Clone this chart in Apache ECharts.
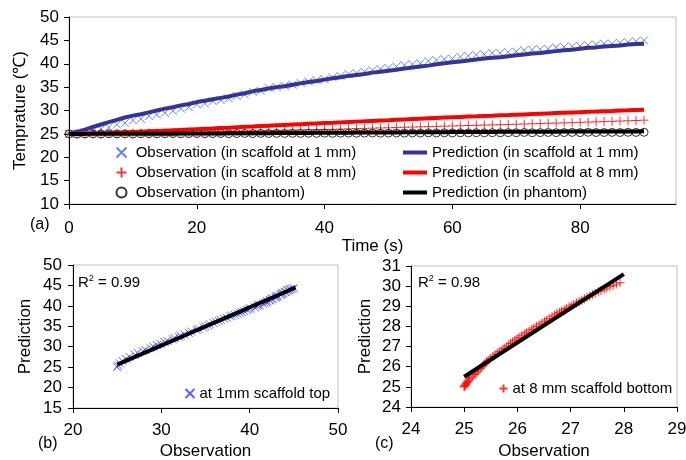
<!DOCTYPE html>
<html><head><meta charset="utf-8">
<script src="https://cdn.jsdelivr.net/npm/echarts@6/dist/echarts.min.js"></script>
<style>html,body{margin:0;padding:0;background:#fff}#c{width:686px;height:460px}</style>
</head><body><div id="c"></div>
<script>
// time stamps (s)
const times = [0,1.25,2.5,3.75,5,6.25,7.5,8.75,10,11.25,
12.5,13.75,15,16.25,17.5,18.75,20,21.25,22.5,23.75,
25,26.25,27.5,28.75,30,31.25,32.5,33.75,35,36.25,
37.5,38.75,40,41.25,42.5,43.75,45,46.25,47.5,48.75,
50,51.25,52.5,53.75,55,56.25,57.5,58.75,60,61.25,
62.5,63.75,65,66.25,67.5,68.75,70,71.25,72.5,73.75,
75,76.25,77.5,78.75,80,81.25,82.5,83.75,85,86.25,
87.5,88.75,90];
// observation / prediction in scaffold at 1 mm
const obs1mm = [25.0,25.1,25.3,25.6,26.0,26.4,27.0,27.3,27.9,28.2,
28.8,29.1,29.5,29.9,30.4,30.7,31.3,31.5,32.0,32.2,
32.6,33.1,33.4,34.0,34.2,34.8,35.0,35.3,35.5,35.9,
36.2,36.5,36.7,37.1,37.4,37.8,38.0,38.3,38.6,38.9,
39.1,39.4,39.7,39.9,40.1,40.6,40.8,41.0,41.1,41.5,
41.7,41.9,42.0,42.3,42.3,42.5,42.6,42.9,43.0,43.1,
43.2,43.5,43.6,43.7,43.8,44.0,44.1,44.3,44.3,44.5,
44.6,44.8,45.0];
const pred1mm = [25.0,25.4,25.9,26.5,27.0,27.5,28.0,28.5,28.9,29.2,
29.6,30.0,30.4,30.7,31.1,31.4,31.8,32.1,32.4,32.7,
33.0,33.4,33.7,34.1,34.4,34.7,35.0,35.2,35.5,35.8,
36.1,36.3,36.6,36.9,37.1,37.4,37.6,37.8,38.1,38.3,
38.5,38.7,39.0,39.2,39.4,39.6,39.9,40.1,40.3,40.5,
40.7,40.9,41.1,41.3,41.4,41.6,41.8,42.0,42.2,42.3,
42.5,42.7,42.9,43.0,43.2,43.4,43.5,43.7,43.8,43.9,
44.1,44.2,44.3];
// observation / prediction in scaffold at 8 mm
const obs8mm = [25.00,25.00,25.02,25.03,25.04,25.05,25.07,25.08,25.10,25.13,
25.16,25.19,25.22,25.24,25.27,25.30,25.33,25.36,25.39,25.42,
25.45,25.49,25.54,25.58,25.62,25.66,25.71,25.75,25.79,25.83,
25.87,25.91,25.95,25.99,26.03,26.08,26.13,26.17,26.22,26.27,
26.31,26.36,26.41,26.46,26.51,26.55,26.60,26.65,26.70,26.74,
26.79,26.83,26.88,26.92,26.97,27.01,27.06,27.11,27.16,27.21,
27.26,27.31,27.36,27.41,27.46,27.52,27.57,27.63,27.68,27.74,
27.80,27.86,27.93];
const pred8mm = [25.00,25.03,25.07,25.11,25.16,25.21,25.27,25.33,25.40,25.47,
25.54,25.61,25.68,25.75,25.83,25.91,25.99,26.07,26.15,26.24,
26.32,26.41,26.50,26.58,26.67,26.75,26.83,26.91,26.99,27.07,
27.15,27.23,27.31,27.38,27.46,27.54,27.62,27.69,27.77,27.85,
27.92,28.00,28.08,28.16,28.24,28.32,28.40,28.48,28.56,28.63,
28.70,28.76,28.83,28.89,28.96,29.02,29.09,29.16,29.23,29.30,
29.37,29.44,29.51,29.58,29.65,29.72,29.78,29.85,29.91,29.98,
30.04,30.11,30.17];
// observation / prediction in phantom
const obsPhantom = [25.00,24.95,24.98,25.00,24.96,25.02,24.98,25.00,24.97,25.01,
25.03,24.99,25.02,25.05,25.01,25.04,25.06,25.03,25.05,25.08,
25.04,25.07,25.09,25.06,25.10,25.08,25.11,25.09,25.12,25.10,
25.13,25.11,25.14,25.12,25.15,25.17,25.14,25.16,25.18,25.15,
25.17,25.19,25.16,25.20,25.18,25.21,25.19,25.22,25.20,25.23,
25.21,25.24,25.22,25.25,25.23,25.26,25.24,25.30,25.25,25.27,
25.30,25.26,25.28,25.31,25.27,25.33,25.29,25.30,25.32,25.30,
25.33,25.31,25.34];
const predPhantom = [25.00,25.00,25.00,25.01,25.01,25.01,25.02,25.02,25.03,25.03,
25.04,25.04,25.05,25.05,25.06,25.06,25.07,25.08,25.09,25.10,
25.11,25.12,25.13,25.14,25.15,25.16,25.17,25.18,25.19,25.20,
25.21,25.22,25.23,25.24,25.25,25.26,25.27,25.28,25.29,25.30,
25.31,25.32,25.33,25.33,25.34,25.35,25.36,25.37,25.38,25.39,
25.40,25.41,25.41,25.42,25.43,25.44,25.45,25.45,25.46,25.47,
25.47,25.48,25.49,25.49,25.50,25.50,25.51,25.51,25.52,25.52,
25.53,25.53,25.54];
// regression lines (observation, prediction) end points
const fit1mmObs = [25.0, 45.2];
const fit1mmPred = [25.6, 44.5];
const fit8mmObs = [25.0, 28.0];
const fit8mmPred = [25.5, 30.6];
// tick labels
const timeTicks = [0,20,40,60,80];
const r2Labels = ['0.99','0.98'];
const seriesNames = ['Observation (in scaffold at 1 mm)','Prediction (in scaffold at 1 mm)',
 'Observation (in scaffold at 8 mm)','Prediction (in scaffold at 8 mm)',
 'Observation (in phantom)','Prediction (in phantom)'];
const scatterNames = ['at 1mm scaffold top','at 8 mm scaffold bottom'];

const FONT = '"Liberation Sans", Arial, sans-serif';
const XSYM = 'path://M0 0L10 10M10 0L0 10';
const PSYM = 'path://M5 0L5 10M0 5L10 5';
const FS = 17;
const pair = (a,b) => a.map((v,i)=>[v,b[i]]);

const chart = echarts.init(document.getElementById('c'), null, {renderer:'canvas'});

function axisCommon(extra){
  return Object.assign({
    type:'value', splitLine:{show:false},
    axisLine:{show:true, onZero:false, lineStyle:{color:'#000', width:1}},
    axisTick:{show:true, inside:false, length:5, lineStyle:{color:'#000'}},
    axisLabel:{color:'#000', fontSize:FS, fontFamily:FONT},
    nameTextStyle:{color:'#000', fontSize:FS, fontFamily:FONT},
    nameLocation:'middle'
  }, extra);
}
const lbl = (m) => ({color:'#000', fontSize:FS, fontFamily:FONT, margin:m});

const option = {
  animation:false,
  textStyle:{fontFamily:FONT},
  grid:[
    {left:69, right:10, top:17, bottom:256, show:true, borderColor:'#bdbdbd', borderWidth:1, containLabel:false, outerBoundsMode:'none'},
    {left:73, right:348, top:265, bottom:52, show:true, borderColor:'#bdbdbd', borderWidth:1, containLabel:false, outerBoundsMode:'none'},
    {left:411, right:9, top:266, bottom:53, show:true, borderColor:'#bdbdbd', borderWidth:1, containLabel:false, outerBoundsMode:'none'}
  ],
  xAxis:[
    axisCommon({gridIndex:0, min:0, max:95, interval:20, name:'Time (s)', nameGap:19,
      axisTick:{show:true, length:5, lineStyle:{color:'#000'}, customValues:timeTicks},
      axisLabel:Object.assign(lbl(16), {customValues:timeTicks})}),
    axisCommon({gridIndex:1, min:20, max:50, interval:10, name:'Observation', nameGap:35, axisLabel:lbl(14)}),
    axisCommon({gridIndex:2, min:24, max:29, interval:1, name:'Observation', nameGap:36, axisLabel:lbl(14)})
  ],
  yAxis:[
    axisCommon({gridIndex:0, min:10, max:50, interval:5, name:'Temprature (℃)', nameGap:39, axisLabel:lbl(10)}),
    axisCommon({gridIndex:1, min:15, max:50, interval:5, name:'Prediction', nameGap:39, axisLabel:lbl(11)}),
    axisCommon({gridIndex:2, min:24, max:31, interval:1, name:'Prediction', nameGap:37, axisLabel:lbl(10)})
  ],
  legend:[
    {data:[seriesNames[0],seriesNames[2],seriesNames[4]], orient:'vertical', left:109, top:140,
     itemWidth:10, itemHeight:10, itemGap:5, formatter:n=>' '+n,
     textStyle:{fontSize:15, color:'#000', fontFamily:FONT, lineHeight:15}},
    {data:[seriesNames[1],seriesNames[3],seriesNames[5]], orient:'vertical', left:398, top:140,
     icon:'rect', itemWidth:24, itemHeight:4, itemGap:5,
     textStyle:{fontSize:15, color:'#000', fontFamily:FONT, lineHeight:15}},
    {data:[scatterNames[0]], left:178, top:381, itemWidth:9, itemHeight:9,
     textStyle:{fontSize:15, color:'#000', fontFamily:FONT}},
    {data:[scatterNames[1]], left:492, top:376, itemWidth:8, itemHeight:8,
     textStyle:{fontSize:15, color:'#000', fontFamily:FONT}}
  ],
  series:[
    {name:seriesNames[0], type:'scatter', xAxisIndex:0, yAxisIndex:0, data:pair(times,obs1mm),
     symbol:XSYM, symbolSize:8, itemStyle:{color:'none', borderColor:'#3d63f0', borderWidth:1}},
    {name:seriesNames[2], type:'scatter', xAxisIndex:0, yAxisIndex:0, data:pair(times,obs8mm),
     symbol:PSYM, symbolSize:9, itemStyle:{color:'none', borderColor:'#ff0000', borderWidth:1}},
    {name:seriesNames[4], type:'scatter', xAxisIndex:0, yAxisIndex:0, data:pair(times,obsPhantom),
     symbol:'circle', symbolSize:8, itemStyle:{color:'none', borderColor:'#000', borderWidth:1}},
    {name:seriesNames[1], type:'line', xAxisIndex:0, yAxisIndex:0, data:pair(times,pred1mm),
     showSymbol:false, symbol:'none', lineStyle:{color:'#333399', width:4}, itemStyle:{color:'#333399'}},
    {name:seriesNames[3], type:'line', xAxisIndex:0, yAxisIndex:0, data:pair(times,pred8mm),
     showSymbol:false, symbol:'none', lineStyle:{color:'#ff0000', width:4}, itemStyle:{color:'#ff0000'}},
    {name:seriesNames[5], type:'line', xAxisIndex:0, yAxisIndex:0, data:pair(times,predPhantom),
     showSymbol:false, symbol:'none', lineStyle:{color:'#000', width:4}, itemStyle:{color:'#000'}},
    {name:scatterNames[0], type:'scatter', xAxisIndex:1, yAxisIndex:1, data:pair(obs1mm,pred1mm),
     symbol:XSYM, symbolSize:8, itemStyle:{color:'none', borderColor:'#2b3cff', borderWidth:1}},
    {name:'fit1', type:'line', xAxisIndex:1, yAxisIndex:1, data:pair(fit1mmObs,fit1mmPred),
     showSymbol:false, symbol:'none', lineStyle:{color:'#000', width:4}},
    {name:scatterNames[1], type:'scatter', xAxisIndex:2, yAxisIndex:2, data:pair(obs8mm,pred8mm),
     symbol:PSYM, symbolSize:9, itemStyle:{color:'none', borderColor:'#ff0000', borderWidth:1}},
    {name:'fit8', type:'line', xAxisIndex:2, yAxisIndex:2, data:pair(fit8mmObs,fit8mmPred),
     showSymbol:false, symbol:'none', lineStyle:{color:'#000', width:4}}
  ],
  graphic:[
    {type:'text', left:30, top:217, style:{text:'(a)', fontSize:16, fontFamily:FONT, fill:'#000'}},
    {type:'text', left:38, top:436, style:{text:'(b)', fontSize:16, fontFamily:FONT, fill:'#000'}},
    {type:'text', left:375, top:436, style:{text:'(c)', fontSize:16, fontFamily:FONT, fill:'#000'}},
    {type:'text', left:78, top:274, style:{text:'{r|R}{s|2}{r| = '+r2Labels[0]+'}', fill:'#000',
      rich:{r:{fontSize:15, fontFamily:FONT, lineHeight:17}, s:{fontSize:9, fontFamily:FONT, verticalAlign:'top', lineHeight:17}}}},
    {type:'text', left:418, top:274, style:{text:'{r|R}{s|2}{r| = '+r2Labels[1]+'}', fill:'#000',
      rich:{r:{fontSize:15, fontFamily:FONT, lineHeight:17}, s:{fontSize:9, fontFamily:FONT, verticalAlign:'top', lineHeight:17}}}}
  ]
};
chart.setOption(option);
</script></body></html>
